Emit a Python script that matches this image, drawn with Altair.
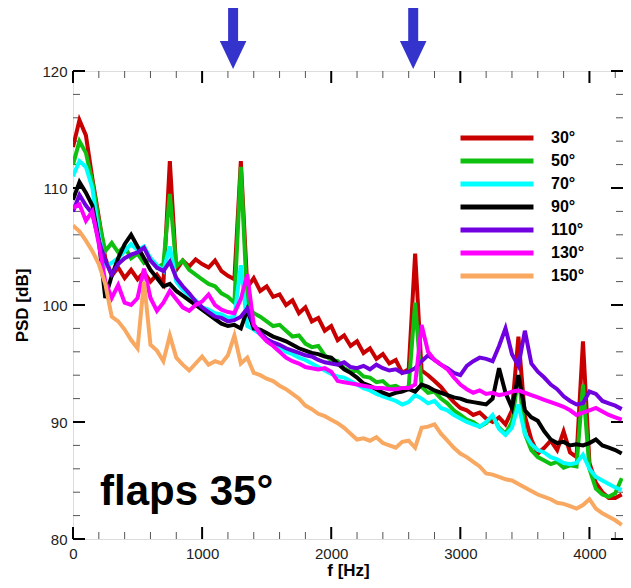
import altair as alt
import pandas as pd

freq = list(range(0, 4300, 50))  # spectral bins, Hz

angles = ["30°", "50°", "70°", "90°", "110°", "130°", "150°"]
colors = ["#c80000", "#10c010", "#00ffff", "#000000", "#7000e0", "#ff00ff", "#f8a860"]

psd_30 = [113.5, 115.8, 114.5, 110.8, 107.5, 104.0, 102.5, 103.2, 102.3, 103.0,
          102.2, 102.8, 102.0, 102.6, 101.8, 112.3, 103.0, 103.8, 103.3, 103.9,
          103.5, 103.2, 103.8, 102.9, 102.5, 102.2, 112.3, 101.5, 102.3, 101.2,
          101.6, 100.7, 100.9, 100.0, 100.4, 99.3, 99.8, 98.6, 98.9, 97.8,
          98.2, 97.0, 97.4, 96.5, 96.9, 95.9, 96.3, 95.4, 95.8, 95.0,
          95.3, 94.2, 94.5, 104.4, 94.4, 94.0, 93.5, 93.0, 92.3, 91.7,
          91.2, 91.0, 90.6, 90.8, 90.3, 90.0, 90.4, 89.8, 91.0, 97.3,
          90.5, 88.5, 87.3, 87.8, 88.4, 87.6, 89.2, 87.4, 87.0, 96.9,
          86.5, 84.8, 84.0, 83.5, 83.5, 83.8]
psd_50 = [112.0, 114.0, 113.0, 110.5, 107.2, 104.6, 105.3, 104.5, 105.0, 104.0,
          104.4, 103.6, 104.0, 103.2, 103.5, 109.5, 103.3, 103.8, 103.0, 102.6,
          102.2, 101.8, 101.6, 101.0, 100.7, 100.2, 111.8, 100.0, 99.3, 99.0,
          98.6, 98.2, 98.3, 97.8, 97.3, 97.4, 96.7, 96.4, 96.5, 95.7,
          95.3, 95.2, 94.6, 94.3, 94.4, 93.9, 93.8, 93.4, 93.5, 93.0,
          93.1, 92.8, 93.0, 100.2, 93.0, 92.5, 92.6, 92.0, 91.6, 91.0,
          90.6, 90.2, 90.0, 89.6, 89.9, 90.5, 89.5, 89.0, 90.0, 94.0,
          89.0, 87.6, 87.0, 86.7, 86.4, 86.6, 86.1, 86.3, 86.2, 93.2,
          86.0, 84.3, 83.8, 83.6, 83.9, 85.2]
psd_70 = [111.0, 112.3, 111.8, 110.0, 106.0, 103.3, 103.6, 104.0, 104.6, 105.2,
          104.7, 105.0, 104.0, 103.4, 102.9, 105.0, 102.0, 101.3, 100.8, 100.4,
          99.8, 99.6, 99.3, 99.2, 98.9, 99.0, 103.4, 98.2, 97.9, 97.5,
          97.0, 96.7, 96.4, 96.0, 95.8, 95.5, 95.3, 95.0, 94.7, 94.4,
          94.1, 93.9, 93.8, 93.5, 93.2, 92.9, 92.7, 92.4, 92.2, 92.0,
          91.8, 91.5, 91.7, 92.3, 92.0, 91.6, 91.8, 91.2, 91.0, 90.6,
          90.3, 90.0, 89.8, 89.6, 90.0, 90.6, 89.4, 88.9, 89.5, 91.5,
          89.0, 88.1, 87.6, 87.4, 87.0, 86.8, 86.5, 86.4, 86.5, 87.2,
          86.0, 85.3, 85.0, 84.7, 84.4, 84.2]
psd_90 = [109.0, 110.5, 109.6, 108.5, 105.5, 100.6, 102.5, 104.0, 105.2, 106.0,
          105.0, 104.0, 103.0, 102.3, 101.6, 101.8, 101.2, 100.8, 100.4, 100.0,
          99.6, 99.2, 98.8, 98.4, 98.2, 98.3, 98.0, 99.6, 98.0, 97.9,
          97.6, 97.3, 97.1, 96.9, 96.6, 96.3, 96.1, 95.9, 95.8, 95.6,
          95.5, 95.0, 94.5, 94.2, 93.8, 93.3, 93.1, 92.8, 92.5, 92.3,
          92.5, 92.6, 92.8, 92.6, 93.2, 93.0, 92.7, 92.5, 92.3, 92.1,
          92.0, 91.8, 91.7, 91.6, 91.5, 92.0, 94.6, 92.5, 91.2, 94.0,
          91.0, 90.4, 90.1, 89.2, 88.5, 88.2, 88.3, 88.0, 88.1, 88.0,
          88.2, 88.5, 88.0, 87.8, 87.6, 87.3]
psd_110 = [108.0, 109.4, 108.5, 107.8, 105.5, 103.8, 102.6, 103.5, 104.0, 104.3,
           104.5, 104.9, 103.8, 103.2, 102.9, 103.7, 102.3, 101.6, 101.0, 100.3,
           99.8, 99.4, 99.0, 98.9, 98.6, 98.7, 99.0, 99.7, 98.3, 97.6,
           97.1, 96.8, 96.6, 96.3, 96.1, 95.9, 95.7, 95.6, 95.3, 95.1,
           95.0, 94.9, 95.1, 94.7, 94.6, 94.8, 94.5, 94.9, 94.6, 94.4,
           94.5, 94.2, 94.3, 94.6, 95.2, 95.7, 95.3, 94.9, 94.6, 94.2,
           94.0, 94.8, 95.2, 95.5, 95.4, 95.2, 96.5, 98.0, 95.8, 94.8,
           97.8, 95.0, 94.3, 93.8, 93.2, 92.8, 92.2, 91.8, 91.5, 91.6,
           92.6, 92.4, 91.8, 91.6, 91.4, 91.1]
psd_130 = [108.3, 108.6, 107.2, 108.0, 105.2, 102.0, 100.6, 101.7, 100.2, 100.0,
           100.6, 103.1, 100.6, 99.5, 100.2, 101.2, 100.5, 99.8, 99.5, 100.0,
           100.3, 100.9, 100.0, 99.6, 99.4, 99.3, 100.5, 102.6, 98.3, 97.5,
           96.9, 96.5, 96.0, 95.5, 95.2, 95.0, 94.7, 94.6, 94.5, 94.6,
           94.3, 93.5, 93.4, 93.3, 93.2, 93.1, 93.0, 92.9, 92.9, 92.8,
           92.8, 92.9, 92.9, 93.2, 98.3, 96.0, 95.3, 94.9, 94.5, 93.8,
           93.2, 92.8, 92.5, 92.7, 92.4, 92.5, 92.3, 92.4, 92.6, 92.7,
           92.5, 92.3, 92.1, 91.9, 91.7, 91.5, 91.3, 91.0, 90.6, 90.8,
           91.0, 91.2, 90.9, 90.6, 90.4, 90.2]
psd_150 = [106.8, 106.3, 105.5, 104.6, 103.5, 101.8, 99.0, 98.6, 97.9, 97.0,
           96.3, 102.0, 96.6, 96.1, 95.2, 97.4, 95.5, 94.9, 94.4, 95.0,
           95.6, 94.9, 95.2, 95.0, 95.7, 97.4, 95.0, 95.5, 94.2, 94.0,
           93.7, 93.5, 93.1, 92.8, 92.4, 92.0, 91.4, 91.1, 90.7, 90.5,
           90.2, 89.9, 89.5, 89.0, 88.5, 88.6, 88.4, 88.7, 88.2, 88.0,
           87.8, 88.3, 88.4, 87.8, 89.5, 89.6, 89.8, 89.0, 88.4, 87.8,
           87.3, 87.0, 86.6, 86.2, 85.6, 85.5, 85.3, 85.1, 85.0, 84.7,
           84.4, 84.1, 83.8, 83.6, 83.4, 83.1, 83.0, 82.8, 82.6, 82.9,
           83.4, 82.6, 82.2, 81.9, 81.6, 81.2]

series = [psd_30, psd_50, psd_70, psd_90, psd_110, psd_130, psd_150]

x_major = [0, 1000, 2000, 3000, 4000]
x_minor = [200, 400, 600, 800, 1200, 1400, 1600, 1800, 2200, 2400, 2600, 2800,
           3200, 3400, 3600, 3800, 4200]
y_major = [80, 90, 100, 110, 120]
y_minor = [82, 84, 86, 88, 92, 94, 96, 98, 102, 104, 106, 108, 112, 114, 116, 118]
arrow_f = [1240, 2635]

W, H = 550, 468
FONT = "Liberation Sans"

rows = []
for a, vals in zip(angles, series):
    for f, v in zip(freq, vals):
        rows.append({"f": f, "psd": v, "angle": a})
df = pd.DataFrame(rows)

xs = alt.Scale(domain=[0, 4260], nice=False, zero=False)
ys = alt.Scale(domain=[80, 120], nice=False, zero=False)
xaxis = alt.Axis(values=x_major, format="d", ticks=False, domain=False, grid=False,
                 labelPadding=7, labelFontSize=15, labelColor="#222222", labelFont=FONT,
                 title="f [Hz]", titleFont=FONT, titleFontSize=17, titleFontWeight="bold",
                 titleColor="black", titlePadding=1, labelFlush=False)
yaxis = alt.Axis(values=y_major, format="d", ticks=False, domain=False, grid=False,
                 labelPadding=6, labelFontSize=15, labelColor="#222222", labelFont=FONT,
                 title="PSD [dB]", titleFont=FONT, titleFontSize=17, titleFontWeight="bold",
                 titleColor="black", titlePadding=10, labelFlush=False)
X = alt.X("f:Q", scale=xs, axis=xaxis)
Y = alt.Y("psd:Q", scale=ys, axis=yaxis)

lines = alt.Chart(df).mark_line(strokeWidth=4, clip=True).encode(
    x=X, y=Y,
    color=alt.Color("angle:N", scale=alt.Scale(domain=angles, range=colors),
                    legend=alt.Legend(title=None, orient="none", legendX=414, legendY=57,
                                      symbolType="M-5,0H5", symbolSize=213,
                                      symbolStrokeWidth=5, labelFont=FONT,
                                      labelFontSize=16, labelFontWeight="bold",
                                      labelColor="black", labelOffset=44, padding=0,
                                      rowPadding=3)),
    order=alt.Order("ord:Q"),
).transform_calculate(ord="indexof(['30°','50°','70°','90°','110°','130°','150°'], datum.angle)")

def xticks(vals, length, width, color):
    d = pd.DataFrame({"f": vals})
    bot = alt.Chart(d).mark_rule(strokeWidth=width, color=color).encode(
        x=X, y=alt.value(H), y2=alt.value(H - length))
    top = alt.Chart(d).mark_rule(strokeWidth=width, color=color).encode(
        x=X, y=alt.value(0), y2=alt.value(length))
    return bot + top

def yticks(vals, length, width, color):
    d = pd.DataFrame({"psd": vals})
    lft = alt.Chart(d).mark_rule(strokeWidth=width, color=color).encode(
        y=Y, x=alt.value(0), x2=alt.value(length))
    rgt = alt.Chart(d).mark_rule(strokeWidth=width, color=color).encode(
        y=Y, x=alt.value(W), x2=alt.value(W - length))
    return lft + rgt

ticks = (xticks(x_major, 12, 2, "black") + xticks(x_minor, 7, 1, "#555555") +
         yticks(y_major, 12, 2, "black") + yticks(y_minor, 7, 1, "#555555"))

label_df = pd.DataFrame({"t": ["flaps 35°"]})
flaps = alt.Chart(label_df).mark_text(font=FONT, fontSize=42, fontWeight="bold",
                                      align="left", baseline="alphabetic",
                                      color="black").encode(
    text="t:N", x=alt.value(27), y=alt.value(434))

arr_df = pd.DataFrame({"f": arrow_f})
shafts = alt.Chart(arr_df).mark_rule(strokeWidth=10, color="#3434cc").encode(
    x=X, y=alt.value(-63), y2=alt.value(-27))
heads = alt.Chart(arr_df).mark_point(shape="M-0.95,-1L0.95,-1L0,1Z", filled=True,
                                     opacity=1, color="#3434cc", strokeWidth=0).encode(
    x=X, y=alt.value(-16), size=alt.value(784))

chart = alt.layer(ticks, lines, flaps, shafts, heads).properties(
    width=W, height=H,
    autosize=alt.AutoSizeParams(type="none"),
    padding={"left": 65, "top": 63, "right": 0, "bottom": 41},
).configure_view(stroke="black", strokeWidth=2).configure(background="white")

chart.save("out.html", embed_options={"renderer": "svg", "actions": False})
